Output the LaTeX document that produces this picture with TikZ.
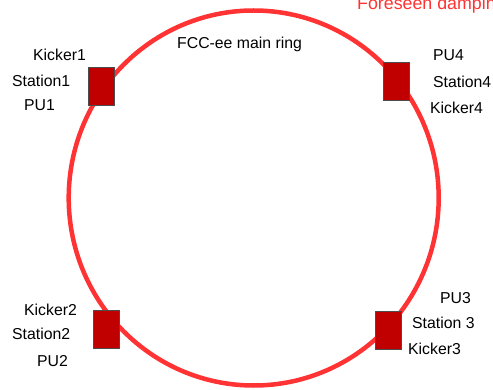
\documentclass[tikz,border=0pt]{standalone}
\usepackage{fontspec}
\setmainfont{Liberation Sans}
\definecolor{ringred}{RGB}{255,51,51}
\definecolor{boxred}{RGB}{192,0,0}
\begin{document}
\begin{tikzpicture}[x=1pt,y=-1pt]
    \tikzset{
      station box/.style={
        draw=black!70, line width=0.8pt, fill=boxred,
        minimum width=26pt, minimum height=38pt, inner sep=0pt,
      },
      label text/.style={
        anchor=base west, inner sep=0pt,
        font=\fontsize{15.8}{18}\selectfont,
      }
    }
    \useasboundingbox (0,0) rectangle (493,390);
    \draw[ringred, line width=4.5pt] (253.7,198)
      ellipse[x radius=185pt, y radius=187.5pt];
    \node[label text] (ring) at (177,48.3) {FCC-ee main ring};
    \node[label text, text=ringred, font=\fontsize{17.8}{20}\selectfont]
      (title) at (357,9.8) {Foreseen damping};
    %
    \node[station box] (station1) at (101.5,86.5) {};
    \node[label text] (kicker1) at (33,60.5) {Kicker1};
    \node[label text] (st1) at (12,87) {Station1};
    \node[label text] (pu1) at (24,110.5) {PU1};
    %
    \node[station box] (station2) at (106,329) {};
    \node[label text] (kicker2) at (24,315.7) {Kicker2};
    \node[label text] (st2) at (12,340) {Station2};
    \node[label text] (pu2) at (37,366.7) {PU2};
    %
    \node[station box] (station3) at (388,330) {};
    \node[label text] (pu3) at (440,304) {PU3};
    \node[label text] (st3) at (412,329) {Station 3};
    \node[label text] (kicker3) at (408,354) {Kicker3};
    %
    \node[station box] (station4) at (396,81.5) {};
    \node[label text] (pu4) at (433,60.7) {PU4};
    \node[label text] (st4) at (433,87.3) {Station4};
    \node[label text] (kicker4) at (430,114) {Kicker4};
\end{tikzpicture}
\end{document}
